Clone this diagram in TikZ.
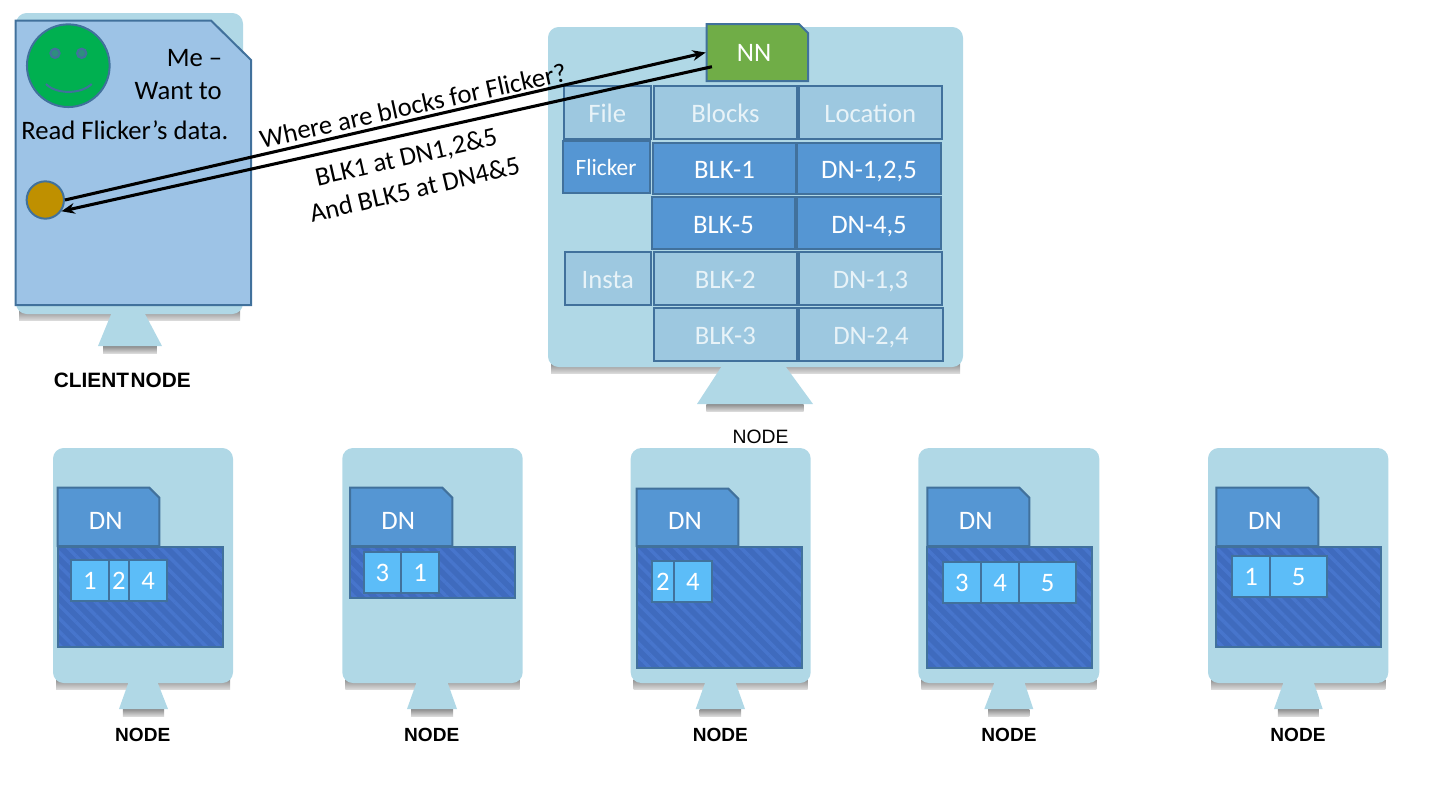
\documentclass[tikz,border=0pt]{standalone}
\usepackage{fontspec}
\setmainfont{Carlito}
\newfontfamily\labfont{Liberation Sans}
\usetikzlibrary{arrows.meta,patterns.meta,calc}
\definecolor{bodyc}{HTML}{B0D8E6}
\definecolor{edgec}{HTML}{41719C}
\definecolor{lightc}{HTML}{9DC8E0}
\definecolor{darkc}{HTML}{5596D3}
\definecolor{docc}{HTML}{9DC3E6}
\definecolor{hatchc}{HTML}{3F6BBE}
\definecolor{stripec}{HTML}{4775CC}
\definecolor{blockc}{HTML}{5CBDF8}
\definecolor{nnc}{HTML}{70AD47}
\definecolor{facec}{HTML}{00B050}
\definecolor{eyec}{HTML}{2F8E7F}
\definecolor{dotc}{HTML}{BF9000}
\definecolor{softw}{HTML}{E8F3F8}
\tikzset{
  outl/.style={draw=edgec,line width=1.5pt,line join=miter},
  body/.style={fill=bodyc},
  shade1/.style={top color=black!45,bottom color=black!15,draw=none},
  tcellbase/.style={outl,inner sep=0pt,outer sep=0pt,text height=15.6pt,text depth=0pt,font=\fontsize{20}{24}\selectfont},
  lightcell/.style={tcellbase,fill=lightc,text=softw},
  darkcell/.style={tcellbase,fill=darkc,text=white},
  blockcell/.style={tcellbase,fill=blockc,text=white,text height=13.6pt},
  maintext/.style={font=\fontsize{20}{24}\selectfont,text=black,inner sep=0pt},
  nodelabel/.style={font=\labfont\bfseries\fontsize{14.3}{17}\selectfont,text=black,inner sep=0pt},
  dnlabel/.style={font=\fontsize{20}{24}\selectfont,text=white,inner sep=0pt,text height=14pt,text depth=0pt},
  hatched/.style={outl,preaction={fill=hatchc},pattern={Lines[angle=-45,distance=7pt,line width=2.6pt]},pattern color=stripec},
  wire/.style={draw=black,line width=2.3pt},
  wirehead/.style={wire,-{Stealth[length=10pt,width=8pt]}},
}
% machine: x1,x2,y1,y2,neckL,neckR,botL,botR,ybot
\newcommand\machine[9]{%
  \path[shade1] ({#1+3},{#4-4}) rectangle ({#2-3},{#4+6});
  \path[shade1] ({#7+0.08*(#8-#7)},#9) rectangle ({#8-0.08*(#8-#7)},{#9+7});
  \path[body] (#5,{#4-2}) -- (#6,{#4-2}) -- (#8,#9) -- (#7,#9) -- cycle;
  \path[body,rounded corners=8pt] (#1,#3) rectangle (#2,#4);
}
% cell: name,x1,y1,x2,y2,style,text
\newcommand\tcell[7]{%
  \node[#6,minimum width={(#4-#2)*0.75pt},minimum height={(#5-#3)*0.75pt}] (#1) at ({(#2+#4)/2},{(#3+#5)/2}) {#7};
}
% folder: x1,x2,y1,y2
\newcommand\folder[4]{%
  \path[outl,fill=darkc] (#1,#4) -- (#1,#3) -- ({#2-10},#3) -- (#2,{#3+10}) -- (#2,#4) -- cycle;
}
\begin{document}
\begin{tikzpicture}[x=0.75pt,y=-0.75pt]
\useasboundingbox (0,0) rectangle (1440,810);
% client machine
\machine{16}{243}{13}{314}{112}{144}{98}{162}{346}
\path[outl,fill=docc] (15.5,20.5) -- (211,20.5) -- (251,60) -- (251,305) -- (15.5,305) -- cycle;
\node[outl,circle,fill=facec,minimum size=62pt,inner sep=0pt] (face) at (68.3,65.7) {};
\node[outl,circle,fill=eyec,minimum size=7pt,inner sep=0pt] (eyeL) at (55,53.3) {};
\node[outl,circle,fill=eyec,minimum size=7pt,inner sep=0pt] (eyeR) at (81.7,53.3) {};
\draw[edgec,line width=1.5pt] (46,84) .. controls (56,94.5) and (81,94.5) .. (91.7,84);
\node[outl,circle,fill=dotc,minimum size=28pt,inner sep=0pt] (dot) at (45.3,200) {};
\node[maintext,anchor=base east] (me) at (222.5,66.7) {Me –};
\node[maintext,anchor=base east] (want) at (222,99) {Want to};
\node[maintext,anchor=base west] (read) at (21,139.3) {Read Flicker’s data.};
\node[nodelabel,font=\labfont\bfseries\fontsize{15.6}{18}\selectfont] (clientlab) at (122.3,380) {\spaceskip=0.08em\relax CLIENT NODE};
% name node machine
\machine{548}{963}{27}{367}{722.5}{784.5}{697}{813}{404}
\node[font=\labfont\fontsize{14.5}{17}\selectfont,text=black,inner sep=0pt] (nnlab) at (760.5,436.7) {NODE};
\path[outl,fill=nnc] (706.5,81) -- (706.5,24) -- (799,24) -- (808,33) -- (808,81) -- cycle;
\node[inner sep=0pt,font=\fontsize{20}{24}\selectfont,text=white,text height=14pt,text depth=0pt,minimum width=72pt,minimum height=42.75pt] (nn) at (754,52.5) {NN};
\tcell{tfile}{563.5}{86}{651}{139}{lightcell}{File}
\tcell{tblocks}{654}{86}{797}{139}{lightcell}{Blocks}
\tcell{tloc}{798.5}{86}{942}{139}{lightcell}{Location}
\tcell{tflick}{562.5}{141}{649.5}{192.7}{darkcell,text height=13pt,font=\fontsize{17.5}{21}\selectfont}{Flicker}
\tcell{tb1}{653}{142.5}{796}{194}{darkcell}{BLK-1}
\tcell{td1}{797}{142.5}{941}{194}{darkcell}{DN-1,2,5}
\tcell{tb5}{652}{196.7}{795}{248.7}{darkcell}{BLK-5}
\tcell{td5}{797}{196.7}{941}{248.7}{darkcell}{DN-4,5}
\tcell{tinsta}{564.7}{252}{651}{305}{lightcell}{Insta}
\tcell{tb2}{653.7}{252}{796.7}{305}{lightcell}{BLK-2}
\tcell{td2}{799}{252}{942}{305}{lightcell}{DN-1,3}
\tcell{tb3}{653.7}{308}{797}{361}{lightcell}{BLK-3}
\tcell{td3}{799}{308}{943}{361}{lightcell}{DN-2,4}
% connectors
\coordinate (nnout) at ($(nn.west)+(6.2,14.2)$);
\draw[wirehead] (dot.east) -- (nn.west);
\draw[wirehead] (nnout) -- (dot.-35);
\node[maintext,rotate=12.4,anchor=base] (ask) at (415,114.5) {Where are blocks for Flicker?};
\node[maintext,rotate=12.8,anchor=base] (ans1) at (408,165.5) {BLK1 at DN1,2\&5};
\node[maintext,rotate=13.2,anchor=base] (ans2) at (416.7,198) {And BLK5 at DN4\&5};
% data node 1
\machine{53}{233}{448}{683}{129}{157}{119}{168}{709}
\path[hatched] (57.7,546.7) rectangle (222.7,647);
\folder{57.7}{159.3}{487.7}{546}
\node[dnlabel] (dn1) at (105.7,520) {DN};
\tcell{a1}{71.3}{560}{108.7}{601.3}{blockcell}{1}
\tcell{a2}{108.7}{560}{129}{601.3}{blockcell}{2}
\tcell{a4}{129}{560}{167.3}{601.3}{blockcell}{4}
\node[nodelabel] (lab1) at (142.7,735) {NODE};
% data node 2
\machine{342.3}{522.7}{448}{683}{417}{447}{407}{457}{709}
\path[hatched] (350,546.7) rectangle (514.7,598.3);
\folder{350}{452.3}{487.7}{546}
\node[dnlabel] (dn2) at (398.3,520) {DN};
\tcell{b3}{364}{552.3}{401}{593.3}{blockcell}{3}
\tcell{b1}{401}{552.3}{439.3}{593.3}{blockcell}{1}
\node[nodelabel] (lab2) at (431.7,735) {NODE};
% data node 3
\machine{630.7}{810.7}{448}{683}{705.7}{735}{695.7}{745}{709}
\path[hatched] (636.7,546.7) rectangle (801.7,668.3);
\folder{636.7}{738.3}{488.7}{546}
\node[dnlabel] (dn3) at (685,520) {DN};
\tcell{c2}{652}{560.7}{674}{602.3}{blockcell}{2}
\tcell{c4}{674}{560.7}{711.7}{602.3}{blockcell}{4}
\node[nodelabel] (lab3) at (720.3,735) {NODE};
% data node 4
\machine{918.3}{1099.3}{448}{683}{995}{1024}{984.3}{1033.3}{709}
\path[hatched] (927.3,546.7) rectangle (1091.7,668.3);
\folder{927.3}{1029.3}{487.7}{546}
\node[dnlabel] (dn4) at (975.7,520) {DN};
\tcell{d3}{942.7}{561.7}{981}{603}{blockcell}{3}
\tcell{d4}{981}{561.7}{1019}{603}{blockcell}{4}
\tcell{d5}{1019}{561.7}{1076}{603}{blockcell}{5}
\node[nodelabel] (lab4) at (1009,735) {NODE};
% data node 5
\machine{1208}{1388.3}{448}{683}{1284}{1313.3}{1274}{1322.7}{709}
\path[hatched] (1216.3,546.7) rectangle (1380.7,647);
\folder{1216.3}{1318.3}{487.7}{546}
\node[dnlabel] (dn5) at (1265,520) {DN};
\tcell{e1}{1232.3}{556}{1270}{596.7}{blockcell}{1}
\tcell{e5}{1270}{556}{1327}{596.7}{blockcell}{5}
\node[nodelabel] (lab5) at (1298,735) {NODE};
\end{tikzpicture}
\end{document}
